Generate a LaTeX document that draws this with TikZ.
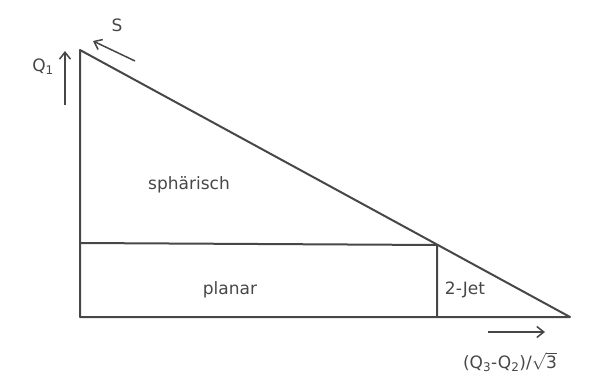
\documentclass[tikz,border=0pt]{standalone}
\usepackage{fontspec}
\setmainfont{DejaVu Sans}[Scale=0.92]
\usetikzlibrary{arrows.meta}
\tikzset{
  rand/.style={line width=2pt, draw=black!72, line join=round},
  pfeil/.style={line width=1.5pt, draw=black!72, -{Straight Barb[length=7pt,width=11pt]}},
  schrift/.style={text=black!72, font=\fontsize{18.5}{22}\selectfont, inner sep=0pt}
}
\begin{document}
\begin{tikzpicture}[x=1pt,y=-1pt]
		\useasboundingbox (0,0) rectangle (596,390);
		\coordinate (oben) at (80,50);
		\coordinate (ursprung) at (80,317);
		\coordinate (rechts) at (570,317);
		\coordinate (links) at (80,243);
		\coordinate (knick) at (437,245);
		\coordinate (fuss) at (437,317);
		\draw[rand] (oben) -- (ursprung) -- (rechts) -- cycle;
		\draw[rand] (links) -- (knick) -- (fuss);
		% Achsenpfeile
		\coordinate (qa) at (65,105);\coordinate (qb) at (65,51);
		\draw[pfeil] (qa) -- (qb);
		\coordinate (sa) at (135,61);\coordinate (sb) at (93,41);
		\draw[pfeil] (sa) -- (sb);
		\coordinate (xa) at (488,332);\coordinate (xb) at (545,332);
		\draw[pfeil] (xa) -- (xb);
		\node[schrift] (qlabel) at (43,67) {Q\textsubscript{1}};
		\node[schrift] (slabel) at (117,25) {S};
		\node[schrift] (sph) at (189,185) {sphärisch};
		\node[schrift] (pla) at (230,290) {planar};
		\node[schrift] (jet) at (465,290) {2-Jet};
		\node[schrift] (xlabel) at (510,362) {(Q\textsubscript{3}-Q\textsubscript{2})/$\sqrt{\mbox{3}}$};
	\end{tikzpicture}
\end{document}
